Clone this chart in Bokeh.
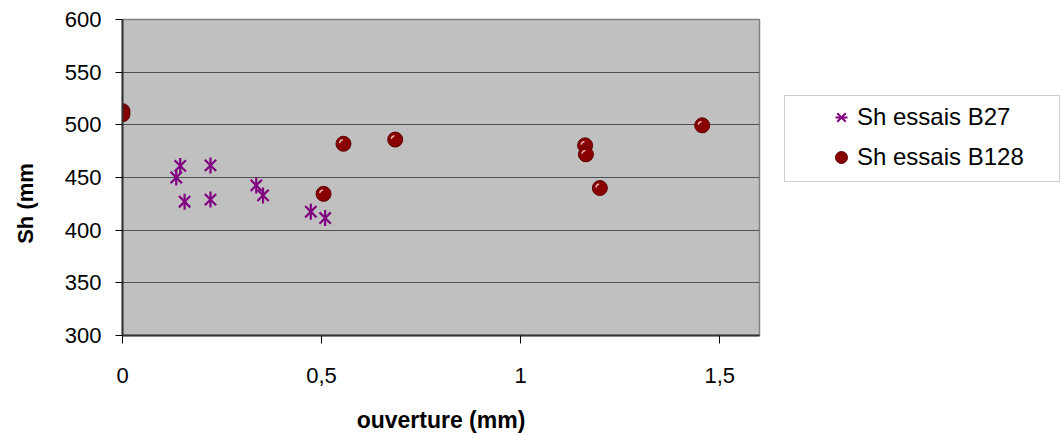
import math

from bokeh.embed import file_html
from bokeh.layouts import row
from bokeh.models import (BoxAnnotation, ColumnDataSource, FixedTicker, Label,
                          Legend, LegendItem, Range1d)
from bokeh.plotting import figure
from bokeh.resources import INLINE

# Sh measurements versus opening, two test series
b27_ouverture = [0.0, 0.145, 0.135, 0.156, 0.221, 0.221, 0.336, 0.353, 0.473, 0.509]
b27_sh = [511, 461, 450, 427, 461.5, 429, 442.5, 433, 417.5, 411.5]

b128_ouverture = [0.0, 0.0, 0.505, 0.555, 0.685, 1.162, 1.164, 1.199, 1.456]
b128_sh = [513, 510, 434.5, 482, 486, 480.5, 472, 440, 499.5]

x_ticks = [0, 0.5, 1, 1.5]
x_tick_labels = ["0", "0,5", "1", "1,5"]
y_ticks = [300, 350, 400, 450, 500, 550, 600]

series_labels = ["Sh essais B27", "Sh essais B128"]
y_title = "Sh (mm"
x_title = "ouverture (mm)"

FONT = "Liberation Sans"
PURPLE = "#800080"
DARK_RED = "#880000"

H = 436
TOP, BOTTOM = 19, 101          # borders above / below the plotting frame
W_TITLE, W_MAIN = 40, 721
W_LEG = 1060 - W_TITLE - W_MAIN
FRAME_BOTTOM = H - BOTTOM


def side_panel(width):
    """Blank figure whose data coordinates equal its pixel coordinates."""
    f = figure(width=width, height=H, output_backend="svg", toolbar_location=None,
               x_range=Range1d(0, width), y_range=Range1d(FRAME_BOTTOM, TOP),
               x_axis_type=None, y_axis_type=None,
               min_border_left=0, min_border_right=0,
               min_border_top=TOP, min_border_bottom=BOTTOM)
    f.grid.visible = False
    f.outline_line_color = None
    f.background_fill_color = "white"
    f.border_fill_color = "white"
    return f


# ---- main chart -----------------------------------------------------------
p = figure(width=W_MAIN, height=H, output_backend="svg", toolbar_location=None,
           x_range=Range1d(0, 1.6), y_range=Range1d(300, 600),
           min_border_left=122 - W_TITLE, min_border_right=2,
           min_border_top=TOP, min_border_bottom=BOTTOM)

p.background_fill_color = "#C0C0C0"
p.border_fill_color = "white"
p.outline_line_color = "#808080"
p.outline_line_width = 1.5

p.xgrid.grid_line_color = None
p.ygrid.grid_line_color = "#505050"
p.ygrid.grid_line_width = 1.2
p.ygrid.ticker = FixedTicker(ticks=y_ticks)

p.xaxis.ticker = FixedTicker(ticks=x_ticks)
p.xaxis.major_label_overrides = dict(zip(x_ticks, x_tick_labels))
p.xaxis.minor_tick_line_color = None
p.xaxis.major_tick_in = 0
p.xaxis.major_tick_out = 8
p.xaxis.major_tick_line_color = "black"
p.xaxis.axis_line_color = "#333333"
p.xaxis.axis_line_width = 2
p.xaxis.major_label_standoff = 24
p.xaxis.major_label_text_font = FONT
p.xaxis.major_label_text_font_size = "22px"
p.xaxis.major_label_text_color = "black"
p.xaxis.axis_label = x_title
p.xaxis.axis_label_text_font = FONT
p.xaxis.axis_label_text_font_size = "23px"
p.xaxis.axis_label_text_font_style = "bold"
p.xaxis.axis_label_text_color = "black"
p.xaxis.axis_label_standoff = 21

p.yaxis.ticker = FixedTicker(ticks=y_ticks)
p.yaxis.minor_tick_line_color = None
p.yaxis.major_tick_in = 0
p.yaxis.major_tick_out = 7
p.yaxis.major_tick_line_color = "black"
p.yaxis.axis_line_color = "#333333"
p.yaxis.axis_line_width = 2
p.yaxis.major_label_standoff = 14
p.yaxis.major_label_text_font = FONT
p.yaxis.major_label_text_font_size = "22px"
p.yaxis.major_label_text_color = "black"

src27 = ColumnDataSource(dict(x=b27_ouverture, y=b27_sh))
src128 = ColumnDataSource(dict(x=b128_ouverture, y=b128_sh))


def star(fig, source, size, width):
    """Six-armed star: an x plus a vertical bar."""
    a = fig.scatter("x", "y", source=source, marker="x", size=size,
                    line_color=PURPLE, line_width=width)
    b = fig.scatter("x", "y", source=source, marker="dash", size=size,
                    angle=math.pi / 2, line_color=PURPLE, line_width=width)
    return [a, b]


def ball(fig, source, size):
    return fig.scatter("x", "y", source=source, marker="circle", size=size,
                       fill_color=DARK_RED, line_color="#5a0000", line_width=1)


star(p, src27, 16, 2.2)
ball(p, src128, 15)
p.arc("x", "y", source=src128, radius=4, radius_units="screen",
      start_angle=math.radians(100), end_angle=math.radians(170),
      line_color="#e8b8b8", line_width=1.5)

# ---- y title strip --------------------------------------------------------
tf = side_panel(W_TITLE)
tf.add_layout(Label(x=25, y=203, text=y_title, angle=math.pi / 2,
                    text_font=FONT, text_font_size="22px", text_font_style="bold",
                    text_align="center", text_baseline="middle", text_color="black"))

# ---- legend strip ---------------------------------------------------------
lf = side_panel(W_LEG)
off = W_TITLE + W_MAIN
lf.add_layout(BoxAnnotation(left=784 - off, right=1059 - off, top=95, bottom=181,
                            fill_color="white", fill_alpha=1,
                            line_color="#606060", line_width=1))

# placeholder sources: one missing point each, only used for the legend swatches
ph27 = ColumnDataSource(dict(x=[float("nan")], y=[float("nan")]))
ph128 = ColumnDataSource(dict(x=[float("nan")], y=[float("nan")]))
leg_star = star(lf, ph27, 11, 2)
leg_ball = ball(lf, ph128, 14)

legend = Legend(items=[
    LegendItem(label=series_labels[0], renderers=leg_star),
    LegendItem(label=series_labels[1], renderers=[leg_ball]),
], location=(841 - off - 15, FRAME_BOTTOM - 172))
legend.padding = 0
legend.margin = 0
legend.spacing = 10
legend.glyph_height = 30
legend.label_height = 30
legend.glyph_width = 30
legend.label_standoff = 1
legend.label_width = 150
legend.label_text_font = FONT
legend.label_text_font_size = "24px"
legend.label_text_color = "black"
legend.border_line_color = None
legend.background_fill_alpha = 0
lf.add_layout(legend, "center")

layout = row(tf, p, lf, spacing=0)
open("out.html", "w").write(file_html(layout, INLINE))
